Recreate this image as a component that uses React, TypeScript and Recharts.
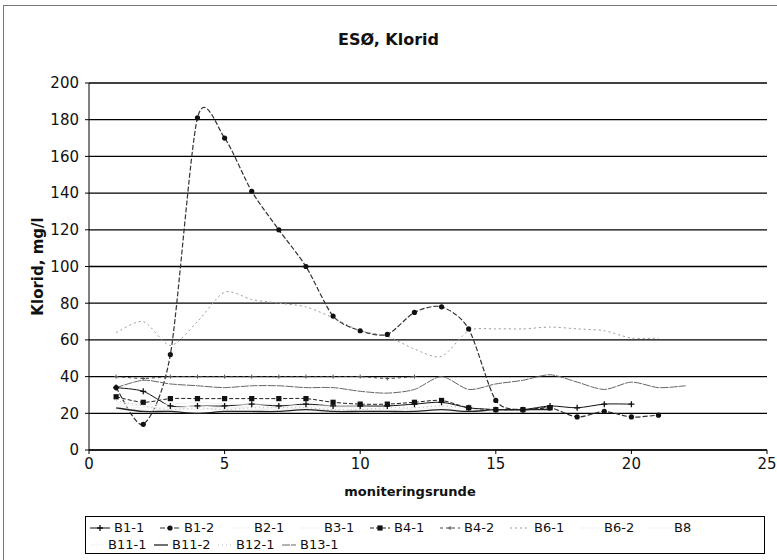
import React from "react";
import { LineChart, Line, XAxis, YAxis, CartesianGrid } from "recharts";

// monitoring rounds
const ROUNDS = [1, 2, 3, 4, 5, 6, 7, 8, 9, 10, 11, 12, 13, 14, 15, 16, 17, 18, 19, 20, 21, 22];

// chloride, mg/l
const B1_1 = [34, 32, 24, 24, 24, 25, 24, 25, 24, 24, 24, 25, 26, 23, 22, 22, 24, 23, 25, 25];
const B1_2 = [34, 14, 52, 181, 170, 141, 120, 100, 73, 65, 63, 75, 78, 66, 27, 22, 23, 18, 21, 18, 19];
const B2_1 = [25, 24, 23, 24, 23, 24, 23, 24, 23, 23, 22, 23, 24, 22, 22, 22];
const B3_1 = [22, 21, 22, 22, 22, 21, 22, 22, 21, 22, 21, 22, 23, 21, 21];
const B4_1 = [29, 26, 28, 28, 28, 28, 28, 28, 26, 25, 25, 26, 27, 23, 22, 22, 23];
const B4_2 = [40, 39, 40, 40, 40, 40, 40, 40, 40, 40, 39, 40];
const B6_1 = [64, 70, 57, 70, 86, 82, 80, 78, 72, 65, 62, 55, 51, 65, 66, 66, 67, 66, 65, 61, 61];
const B6_2 = [24, 23, 23, 22, 23, 23, 22, 23, 22, 22, 22, 22];
const B8 = [26, 25, 25, 26, 25, 25, 25, 24, 24, 24];
const B11_1 = [23, 22, 22, 22, 23, 22, 22, 22, 22, 21, 22, 22];
const B11_2 = [23, 21, 21, 20, 21, 21, 21, 22, 21, 21, 21, 21, 22, 21, 22, 22, 22];
const B12_1 = [27, 24, 22, 23, 22, 23, 23, 23, 22, 22, 23, 23, 24, 23];
const B13_1 = [34, 38, 36, 35, 34, 35, 35, 34, 34, 32, 31, 33, 40, 33, 36, 38, 41, 37, 33, 37, 34, 35];

const X_TICKS = [0, 5, 10, 15, 20, 25];
const Y_TICKS = [0, 20, 40, 60, 80, 100, 120, 140, 160, 180, 200];

type Marker = "plus" | "smallplus" | "dot" | "square" | "none";

interface Series {
  name: string;
  values: number[];
  color: string;
  dash?: string;
  width: number;
  marker: Marker;
}

const SERIES: Series[] = [
  { name: "B1-1", values: B1_1, color: "#111", width: 1, marker: "plus" },
  { name: "B1-2", values: B1_2, color: "#333", dash: "5 2", width: 1.2, marker: "dot" },
  { name: "B2-1", values: B2_1, color: "#f3f3f3", width: 1, marker: "none" },
  { name: "B3-1", values: B3_1, color: "#f3f3f3", width: 1, marker: "none" },
  { name: "B4-1", values: B4_1, color: "#222", dash: "4 2", width: 1, marker: "square" },
  { name: "B4-2", values: B4_2, color: "#444", dash: "3 3", width: 1, marker: "smallplus" },
  { name: "B6-1", values: B6_1, color: "#999", dash: "2 3", width: 1, marker: "none" },
  { name: "B6-2", values: B6_2, color: "#f3f3f3", width: 1, marker: "none" },
  { name: "B8", values: B8, color: "#f3f3f3", width: 1, marker: "none" },
  { name: "B11-1", values: B11_1, color: "#f3f3f3", width: 1, marker: "none" },
  { name: "B11-2", values: B11_2, color: "#222", width: 1.3, marker: "none" },
  { name: "B12-1", values: B12_1, color: "#bbb", dash: "1 3", width: 1, marker: "none" },
  { name: "B13-1", values: B13_1, color: "#666", dash: "8 1", width: 1, marker: "none" },
];

const rows = ROUNDS.map((x, i) => {
  const row: Record<string, number | undefined> = { x };
  SERIES.forEach(s => { row[s.name] = s.values[i]; });
  return row;
});

// Excel-like smoothed line (Catmull-Rom style, slightly relaxed)
function smooth(context: any) {
  let pts: number[][] = [];
  const k = 7.5;
  return {
    areaStart() {},
    areaEnd() {},
    lineStart() { pts = []; },
    point(x: number, y: number) { pts.push([+x, +y]); },
    lineEnd() {
      if (!pts.length) return;
      context.moveTo(pts[0][0], pts[0][1]);
      for (let i = 0; i < pts.length - 1; i++) {
        const p0 = pts[i - 1] || pts[i];
        const p1 = pts[i];
        const p2 = pts[i + 1];
        const p3 = pts[i + 2] || p2;
        context.bezierCurveTo(
          p1[0] + (p2[0] - p0[0]) / k, p1[1] + (p2[1] - p0[1]) / k,
          p2[0] - (p3[0] - p1[0]) / k, p2[1] - (p3[1] - p1[1]) / k,
          p2[0], p2[1]
        );
      }
    },
  };
}

function markerShape(m: Marker, cx: number, cy: number, color: string, key?: any) {
  if (m === "plus")
    return <path key={key} d={`M${cx - 3},${cy}h6M${cx},${cy - 3}v6`} stroke={color} strokeWidth={1.3} fill="none" />;
  if (m === "smallplus")
    return <path key={key} d={`M${cx - 2},${cy}h4M${cx},${cy - 2}v4`} stroke="#555" strokeWidth={1} fill="none" />;
  if (m === "dot") return <circle key={key} cx={cx} cy={cy} r={2.6} fill={color} />;
  if (m === "square") return <rect key={key} x={cx - 2.6} y={cy - 2.6} width={5.2} height={5.2} fill={color} />;
  return <g key={key} />;
}

const makeDot = (s: Series) => (props: any) => {
  const { cx, cy, index, value } = props;
  if (cx == null || cy == null || value == null) return <g key={`e${index}`} />;
  return markerShape(s.marker, cx, cy, "#111", `d${index}`);
};

const FONT = "'DejaVu Sans', Verdana, sans-serif";

function LegendBox() {
  const row1 = SERIES.slice(0, 9);
  const row2 = SERIES.slice(9);
  const item = (s: Series, w: number, sw: number) => (
    <div key={s.name} style={{ width: w, flexShrink: 0, display: "flex", alignItems: "center", whiteSpace: "nowrap" }}>
      <svg width={sw} height={10} style={{ marginRight: 3, flexShrink: 0 }}>
        <line x1={1} y1={5} x2={sw - 1} y2={5} stroke={s.color} strokeWidth={s.width} strokeDasharray={s.dash} />
        {markerShape(s.marker, sw / 2, 5, "#111")}
      </svg>
      <span>{s.name}</span>
    </div>
  );
  return (
    <div style={{
      position: "absolute", left: 85, top: 516, width: 680, height: 38,
      border: "1px solid #000", fontFamily: FONT, fontSize: 13, color: "#111",
      boxSizing: "border-box", padding: "2px 0 0 3px", background: "#fff",
    }}>
      <div style={{ display: "flex", height: 17 }}>{row1.map(s => item(s, 70, 22))}</div>
      <div style={{ display: "flex", height: 17 }}>{row2.map(s => item(s, 64, 16))}</div>
    </div>
  );
}

export default function App() {
  return (
    <div style={{ position: "fixed", left: 0, top: 0, width: 777, height: 560, background: "#fff", overflow: "hidden" }}>
      <div style={{ position: "absolute", left: 3, top: 5, width: 800, height: 600, borderTop: "1px solid #777", borderLeft: "1px solid #777" }} />
      <div style={{
        position: "absolute", left: 0, top: 30, width: 777, textAlign: "center",
        fontFamily: FONT, fontWeight: "bold", fontSize: 16, color: "#111",
      }}>
        ESØ, Klorid
      </div>
      <div style={{ position: "absolute", left: 0, top: 0 }}>
        <LineChart width={777} height={560} data={rows} margin={{ top: 83, right: 10, bottom: 80, left: 39 }}>
          <CartesianGrid horizontal vertical={false} stroke="#000" strokeWidth={1.3} />
          <XAxis
            dataKey="x"
            type="number"
            domain={[0, 25]}
            ticks={X_TICKS}
            tick={{ fill: "#111", fontSize: 15, fontFamily: FONT }}
            tickSize={4}
            tickMargin={4}
            stroke="#000"
            height={30}
            label={{ value: "moniteringsrunde", position: "bottom", dx: -18, dy: 2, style: { fontFamily: FONT, fontWeight: "bold", fontSize: 13, fill: "#111" } }}
          />
          <YAxis
            type="number"
            domain={[0, 200]}
            ticks={Y_TICKS}
            tick={{ fill: "#111", fontSize: 15, fontFamily: FONT }}
            tickSize={4}
            tickMargin={6}
            stroke="#000"
            width={50}
            label={{ value: "Klorid, mg/l", angle: -90, position: "center", dx: -26, style: { fontFamily: FONT, fontWeight: "bold", fontSize: 15, fill: "#111" } }}
          />
          {SERIES.map(s => (
            <Line
              key={s.name}
              dataKey={s.name}
              name={s.name}
              type={smooth as any}
              stroke={s.color}
              strokeWidth={s.width}
              strokeDasharray={s.dash}
              dot={s.marker === "none" ? false : makeDot(s)}
              activeDot={false}
              isAnimationActive={false}
            />
          ))}
        </LineChart>
      </div>
      <LegendBox />
    </div>
  );
}
